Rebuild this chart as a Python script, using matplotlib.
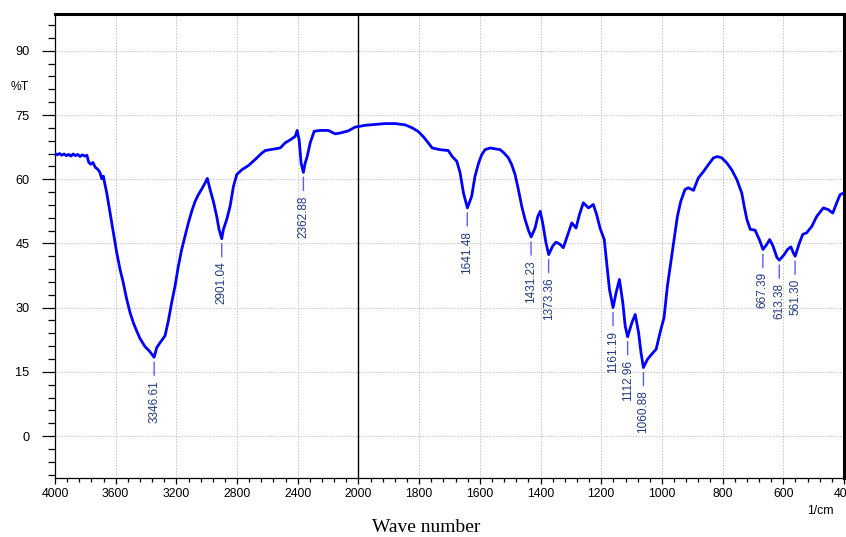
import matplotlib
matplotlib.use("Agg")
import matplotlib.pyplot as plt
import numpy as np

# Spectre FTIR : nombre d'onde (1/cm) et transmittance (%T)
wn = [4000, 3985, 3970, 3955, 3940, 3925, 3910, 3895, 3880, 3865, 3850, 3835, 3820, 3805, 3790,
      3778, 3765, 3750, 3735, 3715, 3703, 3692, 3681, 3675, 3659, 3637, 3616, 3593, 3571, 3550,
      3527, 3505, 3484, 3461, 3440, 3407, 3374, 3347, 3329, 3308, 3275, 3253, 3231, 3209, 3187,
      3165, 3143, 3121, 3099, 3077, 3055, 3033, 3011, 2996, 2978, 2956, 2934, 2919, 2901, 2890,
      2868, 2846, 2824, 2802, 2769, 2725, 2681, 2640, 2615, 2549, 2516, 2483, 2450, 2417, 2404,
      2391, 2378, 2363, 2351, 2338, 2318, 2292, 2252, 2199, 2170, 2153, 2120, 2067, 2021, 2000,
      1978, 1945, 1912, 1879, 1846, 1823, 1804, 1787, 1770, 1757, 1731, 1704, 1691, 1676, 1665,
      1654, 1641, 1627, 1616, 1604, 1594, 1583, 1566, 1550, 1533, 1520, 1506, 1495, 1484, 1473,
      1462, 1451, 1439, 1431, 1418, 1409, 1401, 1393, 1382, 1373, 1360, 1349, 1336, 1325, 1308,
      1297, 1283, 1272, 1259, 1242, 1226, 1215, 1204, 1190, 1182, 1173, 1161, 1151, 1140, 1129,
      1121, 1113, 1099, 1088, 1077, 1069, 1061, 1048, 1034, 1019, 1006, 993, 982, 971, 960,
      949, 938, 924, 913, 896, 880, 863, 847, 830, 817, 803, 786, 770, 753, 737,
      729, 720, 709, 693, 679, 667, 654, 645, 634, 621, 613, 597, 586, 575, 567,
      561, 547, 536, 523, 506, 490, 468, 452, 437, 424, 413, 400]
tr = [66.0, 65.7, 66.0, 65.6, 65.9, 65.5, 65.8, 65.4, 65.9, 65.5, 65.8, 65.3, 65.7, 65.4, 65.6,
      64.0, 63.5, 63.9, 62.8, 62.2, 61.5, 60.1, 60.7, 59.5, 56.8, 52.1, 47.5, 42.8, 38.9, 35.8,
      31.9, 28.8, 26.5, 24.5, 22.8, 20.9, 19.7, 18.4, 20.7, 21.8, 23.4, 26.9, 31.2, 35.0, 39.7,
      43.6, 46.7, 49.8, 52.5, 54.8, 56.4, 57.7, 59.1, 60.2, 57.6, 54.8, 51.3, 48.3, 46.1, 48.3,
      50.6, 53.7, 58.3, 61.1, 62.2, 63.2, 64.6, 66.0, 66.7, 67.1, 67.3, 68.5, 69.2, 70.0, 71.4,
      69.2, 63.8, 61.6, 63.8, 65.3, 68.5, 71.2, 71.4, 71.4, 70.9, 70.6, 70.8, 71.3, 72.2, 72.3,
      72.6, 72.8, 73.0, 73.0, 72.7, 72.0, 71.2, 70.0, 68.5, 67.3, 66.9, 66.7, 65.3, 64.2, 61.5,
      56.8, 53.3, 56.0, 60.7, 63.8, 65.7, 66.9, 67.3, 67.1, 66.9, 66.1, 65.0, 63.4, 61.1, 57.6,
      53.7, 50.6, 47.9, 46.5, 48.6, 51.3, 52.5, 49.8, 45.1, 42.4, 44.4, 45.3, 44.8, 44.0, 47.5,
      49.8, 48.6, 51.7, 54.5, 53.3, 54.1, 51.7, 48.6, 45.9, 40.5, 34.3, 30.0, 33.5, 36.6, 31.2,
      25.7, 23.2, 26.5, 28.4, 24.2, 19.5, 16.0, 17.9, 19.1, 20.3, 24.2, 27.7, 35.0, 40.5, 45.9,
      51.3, 54.8, 57.6, 58.0, 57.4, 60.3, 61.8, 63.4, 65.0, 65.3, 65.0, 63.8, 62.2, 59.9, 56.8,
      53.7, 50.6, 48.3, 48.1, 45.9, 43.6, 44.8, 45.9, 44.4, 41.7, 41.1, 42.4, 43.6, 44.2, 42.8,
      42.0, 45.1, 47.1, 47.5, 49.0, 51.3, 53.3, 52.9, 52.1, 54.5, 56.4, 56.8]

# Pics marqués
peak_wn = [3346.61, 2901.04, 2362.88, 1641.48, 1431.23, 1373.36,
           1161.19, 1112.96, 1060.88, 667.39, 613.38, 561.30]
peak_tr = [18.4, 46.1, 61.6, 53.3, 46.5, 42.4, 30.0, 23.2, 16.0, 43.6, 41.1, 42.0]

x_major = [4000, 3600, 3200, 2800, 2400, 2000, 1800, 1600, 1400, 1200, 1000, 800, 600, 400]
y_major = [0, 15, 30, 45, 60, 75, 90]


# echelle comprimee au-dessus de 2000 1/cm
def fwd(w):
    w = np.asarray(w, dtype=float)
    return np.where(w > 2000, 2000 + (w - 2000) / 2.0, w)


def inv(x):
    x = np.asarray(x, dtype=float)
    return np.where(x > 2000, 2000 + (x - 2000) * 2.0, x)


plt.rcParams['font.family'] = ['Liberation Sans', 'DejaVu Sans']

fig = plt.figure(figsize=(8.46, 5.37), dpi=100)
ax = fig.add_axes([55 / 846, 1 - 478 / 537, 789 / 846, 464 / 537])

ax.set_xscale('function', functions=(fwd, inv))
ax.set_xlim(4000, 400)
ax.set_ylim(-9.8, 98.6)

ax.plot(wn, tr, color='#0000ff', lw=2.0, zorder=3)
ax.axvline(2000, color='black', lw=1.0, zorder=2)

for w, t in zip(peak_wn, peak_tr):
    ax.annotate('', xy=(w, t), xytext=(0, -13), textcoords='offset points',
                arrowprops=dict(arrowstyle='-', color='#5a5aff', lw=1.0,
                                shrinkA=0, shrinkB=3.5))
    ax.annotate(f'{w:.2f}', xy=(w, t), xytext=(0, -16.5), textcoords='offset points',
                rotation=90, ha='center', va='top', fontsize=8.5, color='#1f3a80')

minor_x = list(range(400, 2000, 40)) + list(range(2000, 4001, 80))
ax.set_xticks(x_major)
ax.set_xticks(minor_x, minor=True)
ax.set_xticklabels([str(v) for v in x_major])
ax.set_yticks(y_major)
ax.set_yticks(list(range(-9, 97, 3)), minor=True)

ax.tick_params(axis='x', which='major', direction='out', length=4.5, width=0.9, pad=3, labelsize=8.8)
ax.tick_params(axis='x', which='minor', direction='out', length=3, width=0.9)
ax.tick_params(axis='y', which='major', direction='out', length=9.4, width=0.9, pad=9, labelsize=9.2)
ax.tick_params(axis='y', which='minor', direction='out', length=5, width=0.9)

ax.grid(True, which='major', color='#c2c2c2', linestyle=(0, (1.5, 1.5)), lw=0.7)
ax.set_axisbelow(True)

for side in ['left', 'bottom']:
    ax.spines[side].set_linewidth(0.9)
for side in ['top', 'right']:
    ax.spines[side].set_linewidth(2.2)

fig.text(20 / 846, 1 - 87 / 537, '%T', ha='center', va='center', fontsize=8.8)
fig.text(820 / 846, 1 - 511 / 537, '1/cm', ha='center', va='center', fontsize=8.8)
fig.text(426 / 846, 1 - 528 / 537, 'Wave number', ha='center', va='center',
         fontsize=14, family=['Liberation Serif', 'DejaVu Serif'])

fig.savefig('out.png', dpi=100)
